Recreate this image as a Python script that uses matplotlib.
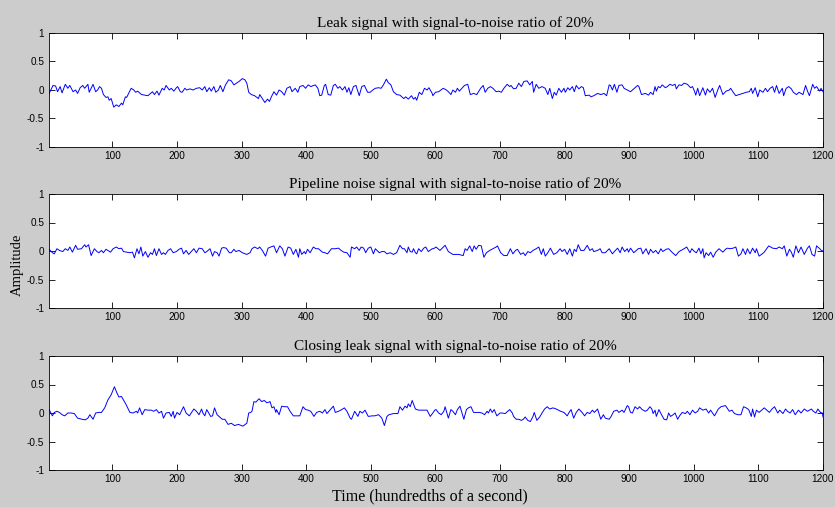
import matplotlib
matplotlib.use("Agg")
import matplotlib.pyplot as plt

# ---- data ----
t1 = [2, 8, 12, 15, 19, 22, 27, 31, 34, 39, 43, 46, 50, 54, 57, 62, 64, 70, 74, 77, 80, 83, 86, 90, 93, 95, 98, 102, 106, 110, 114, 116, 120, 122, 125, 129, 133, 136, 139, 145, 150, 155, 162, 165, 169, 172, 177, 180, 183, 188, 191, 195, 199, 201, 205, 208, 212, 215, 220, 225, 230, 235, 239, 243, 246, 250, 253, 257, 260, 264, 267, 271, 275, 280, 284, 288, 292, 296,
      301, 305, 308, 311, 315, 320, 326, 328, 332, 336, 340, 343, 346, 350, 354, 358, 362, 366, 370, 375, 378, 383, 387, 390, 395, 399, 403, 407, 414, 418, 421, 424, 428, 430, 434, 438, 442, 445, 449, 452, 456, 460, 463, 466, 469, 473, 477, 482, 486, 490, 495, 499, 503, 507, 512, 516, 520, 524, 527, 531, 535, 540, 545, 551, 554, 558, 563, 566, 569, 571, 575, 579, 583, 587, 590, 595,
      596, 600, 605, 612, 617, 620, 624, 627, 631, 634, 637, 641, 645, 650, 654, 659, 664, 670, 674, 677, 681, 685, 689, 694, 698, 702, 706, 711, 715, 717, 721, 725, 729, 733, 737, 742, 746, 750, 752, 756, 760, 765, 770, 774, 777, 781, 784, 787, 791, 795, 799, 801, 805, 808, 812, 815, 818, 822, 826, 829, 832, 838, 841, 845, 851, 856, 861, 865, 869, 871, 874, 877, 881, 884, 889, 892,
      902, 909, 913, 915, 919, 925, 930, 933, 937, 940, 942, 945, 948, 951, 956, 959, 963, 967, 971, 973, 977, 981, 985, 990, 995, 998, 1001, 1003, 1006, 1009, 1014, 1018, 1021, 1025, 1029, 1033, 1037, 1040, 1045, 1050, 1055, 1057, 1061, 1065, 1070, 1076, 1081, 1086, 1089, 1091, 1095, 1099, 1102, 1107, 1111, 1114, 1118, 1122, 1125, 1128, 1132, 1137, 1139, 1143, 1147, 1151, 1154, 1159, 1163, 1169, 1173, 1176, 1179, 1184, 1187, 1190, 1195, 1197, 1200]
a1 = [-0.06, 0.08, 0.07, -0.03, 0.06, -0.05, 0.10, 0.03, 0.08, -0.03, 0.0, -0.06, 0.04, 0.08, 0.03, 0.10, -0.04, 0.10, -0.03, 0.0, 0.06, 0.03, -0.08, -0.13, -0.12, -0.18, -0.15, -0.30, -0.26, -0.29, -0.23, -0.26, -0.12, -0.13, -0.06, 0.03, 0.0, -0.04, -0.02, -0.08, -0.09, -0.10, -0.03, -0.08, -0.02, -0.09, 0.03, 0.0, 0.08, 0.0, 0.03, -0.02, 0.04, 0.06, -0.03, -0.04, 0.03, 0.0, 0.02, 0.0, 0.03, 0.04, 0.0, 0.06, -0.03, 0.04, -0.02, 0.06, -0.04, 0.0, 0.08, -0.03, 0.09, 0.18, 0.16, 0.09, 0.12, 0.15,
      0.20, 0.18, 0.12, -0.04, -0.08, -0.10, -0.15, -0.08, -0.15, -0.22, -0.16, -0.20, -0.12, -0.03, -0.09, 0.0, -0.03, -0.09, 0.03, 0.06, -0.03, 0.03, -0.04, 0.06, 0.08, 0.03, 0.09, 0.06, 0.09, 0.03, -0.10, -0.09, 0.08, 0.10, -0.08, -0.09, 0.08, 0.10, 0.03, 0.06, 0.0, 0.06, -0.04, 0.04, -0.08, 0.06, 0.08, -0.10, 0.06, 0.08, -0.04, -0.04, 0.0, 0.03, 0.04, 0.03, 0.10, 0.19, 0.13, 0.09, -0.03, -0.08, -0.09, -0.15, -0.12, -0.16, -0.10, -0.16, -0.13, -0.18, -0.04, -0.08, 0.03, 0.0, 0.04, -0.06,
      -0.10, -0.04, -0.03, 0.03, 0.0, -0.03, -0.08, 0.0, -0.04, 0.03, -0.02, 0.03, 0.08, 0.10, -0.08, -0.06, -0.08, 0.03, 0.08, -0.04, 0.03, 0.06, 0.03, -0.03, -0.02, -0.04, 0.03, 0.10, 0.06, 0.08, 0.02, 0.03, 0.12, 0.06, 0.15, 0.16, 0.09, 0.15, -0.04, 0.10, 0.03, 0.06, 0.03, -0.08, 0.03, -0.15, -0.04, -0.09, 0.03, -0.04, 0.03, -0.04, 0.04, 0.0, 0.06, -0.03, 0.08, 0.02, 0.06, 0.04, -0.10, -0.09, -0.12, -0.10, -0.06, -0.08, -0.06, -0.10, 0.09, 0.08, 0.0, 0.10, -0.04, 0.08, 0.09, 0.03,
      -0.03, 0.04, 0.08, 0.06, -0.08, -0.06, -0.09, -0.04, -0.08, 0.06, -0.02, 0.06, 0.04, 0.09, 0.04, 0.06, 0.10, 0.08, 0.10, 0.02, 0.09, 0.08, 0.12, 0.10, 0.04, 0.06, -0.02, -0.09, 0.03, -0.10, 0.04, -0.09, 0.02, -0.04, 0.03, -0.13, 0.0, 0.08, -0.08, -0.02, 0.0, 0.03, -0.04, -0.10, -0.08, -0.06, -0.04, -0.03, 0.03, -0.06, 0.04, -0.12, 0.0, -0.04, 0.03, -0.03, 0.03, 0.06, -0.04, 0.08, -0.06, 0.03, -0.10, 0.03, 0.06, 0.02, -0.04, -0.08, -0.04, -0.08, 0.08, -0.02, -0.10, 0.10, 0.03, 0.06, -0.02, 0.03, -0.03]

t2 = [2, 7, 10, 14, 18, 23, 27, 31, 34, 38, 43, 46, 52, 57, 59, 63, 67, 72, 76, 79, 83, 86, 90, 97, 101, 106, 110, 114, 117, 122, 127, 131, 134, 138, 141, 144, 147, 151, 155, 159, 162, 165, 168, 172, 176, 179, 182, 186, 190, 194, 199, 203, 207, 210, 214, 218, 222, 226, 230, 234, 239, 243, 246, 251, 255, 258, 262, 265, 269, 272, 276, 281, 284, 288, 291, 296,
      301, 308, 313, 316, 320, 325, 328, 332, 337, 341, 345, 350, 354, 359, 363, 367, 372, 376, 380, 384, 388, 390, 393, 397, 399, 402, 406, 411, 415, 419, 425, 429, 433, 439, 445, 450, 454, 458, 463, 468, 470, 475, 478, 482, 485, 489, 492, 496, 500, 504, 507, 513, 517, 521, 525, 530, 535, 540, 545, 549, 552, 556, 558, 561, 564, 566, 569, 571, 574, 578, 582, 585, 589, 595,
      597, 601, 607, 615, 620, 627, 636, 643, 646, 649, 653, 657, 660, 663, 667, 671, 675, 679, 684, 689, 694, 696, 701, 706, 711, 716, 720, 724, 727, 732, 736, 739, 743, 747, 751, 756, 760, 764, 767, 770, 774, 778, 783, 788, 793, 796, 800, 804, 808, 812, 815, 818, 821, 825, 830, 835, 839, 843, 845, 851, 855, 858, 863, 869, 874, 877, 882, 886, 889, 893, 897,
      899, 902, 907, 914, 918, 921, 926, 930, 933, 937, 941, 945, 949, 952, 957, 961, 967, 972, 977, 985, 989, 994, 997, 1001, 1004, 1008, 1011, 1014, 1016, 1019, 1023, 1026, 1030, 1034, 1039, 1045, 1049, 1052, 1056, 1061, 1065, 1069, 1073, 1076, 1080, 1083, 1087, 1091, 1095, 1097, 1101, 1106, 1109, 1116, 1122, 1128, 1132, 1137, 1140, 1144, 1148, 1151, 1154, 1158, 1162, 1166, 1171, 1176, 1179, 1183, 1187, 1190, 1195, 1199, 1200]
a2 = [0.03, -0.03, -0.05, 0.04, 0.01, -0.01, 0.04, 0.01, 0.07, -0.02, 0.10, 0.03, 0.04, 0.11, 0.07, 0.11, -0.08, 0.04, -0.01, -0.03, 0.01, -0.03, 0.03, -0.02, 0.04, 0.07, 0.04, 0.05, -0.01, -0.02, -0.03, -0.02, -0.12, 0.04, -0.05, 0.07, -0.09, -0.01, -0.11, -0.03, -0.06, 0.04, -0.08, 0.04, -0.06, -0.03, -0.06, 0.01, 0.04, -0.03, -0.01, 0.03, 0.05, -0.05, 0.01, -0.06, -0.01, 0.04, -0.03, 0.05, 0.04, -0.03, -0.01, 0.04, -0.09, -0.01, -0.03, -0.09, 0.05, 0.06, 0.05, -0.03, -0.03, 0.03, -0.01, 0.01,
      -0.03, -0.06, -0.03, 0.04, 0.07, 0.04, 0.07, 0.01, -0.09, 0.05, 0.07, 0.09, -0.03, 0.09, 0.04, -0.09, 0.07, 0.05, -0.06, 0.03, -0.11, 0.04, -0.06, -0.01, -0.05, 0.03, -0.03, 0.07, 0.04, 0.04, -0.02, -0.03, -0.05, 0.04, 0.04, 0.05, 0.01, -0.02, -0.03, -0.11, 0.07, 0.04, 0.07, 0.01, 0.07, 0.05, -0.03, 0.05, 0.07, -0.05, 0.04, -0.03, -0.01, -0.01, -0.05, -0.03, -0.06, -0.03, 0.10, 0.04, 0.04, -0.03, 0.07, -0.01, -0.02, 0.04, -0.03, -0.05, 0.04, -0.01, 0.05, 0.07, -0.01, 0.04,
      0.04, 0.07, 0.01, 0.10, -0.01, -0.06, -0.06, -0.08, 0.04, 0.01, 0.09, -0.01, 0.09, 0.03, 0.10, 0.09, -0.11, -0.03, 0.01, 0.04, 0.07, 0.09, -0.03, -0.08, -0.08, 0.04, -0.05, 0.01, 0.03, -0.06, -0.03, -0.08, -0.01, -0.03, 0.01, 0.04, 0.07, -0.06, 0.04, -0.09, -0.03, 0.05, -0.06, -0.03, 0.04, -0.01, 0.03, -0.06, 0.04, -0.09, 0.03, -0.01, 0.11, 0.01, 0.01, 0.10, 0.01, 0.04, -0.01, 0.01, 0.04, -0.03, -0.03, 0.04, -0.05, -0.01, 0.05, -0.03, 0.07, -0.01, 0.04,
      -0.02, 0.05, -0.03, 0.04, 0.05, -0.05, 0.04, -0.06, 0.03, -0.03, 0.01, -0.05, 0.04, -0.01, 0.03, 0.04, -0.03, -0.08, -0.01, 0.04, 0.07, -0.03, 0.04, -0.01, -0.03, 0.05, -0.05, 0.04, -0.12, -0.03, -0.08, -0.02, -0.11, -0.02, 0.04, -0.02, 0.03, 0.05, 0.04, 0.05, 0.07, -0.09, -0.05, 0.04, -0.06, 0.04, -0.05, 0.05, -0.03, 0.04, -0.09, -0.05, -0.02, 0.09, 0.05, 0.04, 0.07, 0.04, 0.09, -0.09, 0.03, -0.02, -0.11, 0.09, -0.03, 0.07, -0.06, 0.05, 0.09, -0.06, -0.09, 0.09, 0.04, -0.01, 0.01]

t3 = [2, 7, 10, 14, 18, 22, 26, 31, 36, 41, 46, 53, 58, 62, 65, 70, 74, 79, 83, 88, 93, 98, 103, 107, 110, 114, 117, 121, 127, 132, 137, 139, 142, 146, 150, 155, 160, 164, 168, 172, 176, 179, 183, 188, 191, 194, 196, 200, 204, 210, 214, 219, 222, 226, 230, 234, 238, 240, 243, 246, 252, 255, 258, 262, 266, 270, 274, 279, 284, 289, 295,
      302, 308, 311, 314, 316, 319, 322, 327, 331, 335, 339, 342, 344, 347, 350, 353, 354, 358, 362, 366, 371, 375, 380, 385, 390, 395, 399, 403, 407, 412, 416, 421, 425, 429, 432, 442, 445, 450, 455, 459, 463, 468, 470, 475, 480, 483, 487, 491, 496, 502, 506, 512, 517, 521, 525, 528, 535, 542, 545, 549, 553, 556, 558, 561, 564, 569, 574, 582, 587, 592, 596, 599,
      601, 605, 609, 613, 615, 620, 624, 627, 631, 634, 638, 644, 648, 651, 655, 659, 664, 668, 672, 676, 680, 682, 685, 688, 691, 695, 700, 703, 708, 715, 719, 721, 725, 729, 733, 736, 739, 743, 747, 751, 753, 757, 762, 765, 769, 773, 777, 782, 787, 794, 799, 804, 808, 810, 814, 818, 822, 827, 831, 835, 839, 843, 846, 851, 856, 860, 863, 869, 872, 876, 881, 884, 889, 892, 897,
      899, 902, 905, 909, 913, 916, 920, 925, 928, 932, 935, 937, 940, 942, 946, 950, 954, 958, 961, 964, 968, 971, 975, 978, 982, 987, 990, 994, 998, 1002, 1006, 1009, 1014, 1019, 1023, 1026, 1032, 1038, 1042, 1049, 1055, 1059, 1063, 1068, 1073, 1077, 1081, 1085, 1089, 1091, 1094, 1097, 1101, 1106, 1109, 1113, 1117, 1121, 1125, 1130, 1133, 1138, 1142, 1145, 1149, 1153, 1157, 1162, 1166, 1171, 1176, 1182, 1185, 1189, 1192, 1196, 1199, 1200]
a3 = [0.06, -0.05, 0.01, 0.03, 0.01, -0.03, -0.05, 0.0, 0.0, -0.01, -0.09, -0.11, -0.12, -0.09, -0.03, -0.11, 0.0, 0.01, 0.01, 0.09, 0.23, 0.32, 0.46, 0.35, 0.28, 0.29, 0.23, 0.15, 0.01, 0.0, 0.03, 0.0, 0.09, -0.03, 0.06, 0.05, 0.05, 0.03, 0.06, 0.0, 0.03, -0.09, 0.0, 0.01, -0.06, 0.03, -0.09, 0.01, -0.03, 0.11, 0.0, -0.05, 0.0, 0.07, 0.03, -0.03, 0.07, 0.0, -0.05, 0.06, -0.06, -0.05, 0.09, -0.03, -0.07, -0.11, -0.11, -0.20, -0.18, -0.22, -0.20,
      -0.23, -0.18, 0.0, 0.01, 0.03, 0.20, 0.19, 0.25, 0.20, 0.22, 0.18, 0.19, 0.20, 0.09, 0.11, 0.01, 0.06, -0.03, 0.12, 0.11, 0.11, 0.03, -0.05, -0.05, -0.05, 0.11, 0.06, 0.05, 0.03, -0.06, 0.01, 0.03, 0.0, 0.06, -0.01, 0.12, 0.01, 0.03, 0.06, 0.09, 0.03, -0.09, -0.11, 0.03, -0.06, 0.03, 0.0, 0.05, -0.06, -0.05, -0.05, -0.03, -0.09, -0.22, -0.06, -0.03, -0.01, -0.01, 0.11, 0.05, 0.12, 0.09, 0.16, 0.11, 0.22, 0.07, 0.05, 0.05, 0.05, -0.06, 0.0, 0.05,
      0.06, 0.0, -0.03, 0.03, 0.11, -0.09, 0.06, 0.03, -0.03, 0.06, 0.12, -0.11, 0.06, 0.09, 0.11, 0.01, 0.01, 0.01, 0.0, -0.03, 0.03, 0.0, 0.07, 0.01, 0.06, -0.05, 0.0, 0.0, -0.01, 0.06, 0.0, -0.06, -0.11, -0.11, -0.13, -0.11, -0.07, -0.13, -0.15, -0.06, 0.01, -0.13, -0.06, 0.0, 0.07, 0.11, 0.07, 0.09, 0.07, 0.03, 0.01, -0.05, 0.03, 0.06, -0.09, 0.01, 0.07, 0.01, -0.05, 0.01, -0.01, 0.05, 0.01, 0.07, -0.11, -0.03, -0.09, -0.11, -0.06, 0.03, 0.05, 0.01, 0.05, 0.01, 0.13,
      0.11, 0.01, 0.0, 0.11, 0.07, 0.11, 0.06, 0.03, 0.05, 0.11, 0.07, -0.01, 0.05, -0.06, 0.06, -0.03, -0.11, -0.12, 0.0, -0.06, -0.03, 0.0, -0.11, -0.05, 0.01, -0.01, 0.03, -0.03, 0.05, 0.0, 0.03, 0.09, 0.05, 0.07, 0.0, 0.05, -0.05, 0.07, 0.11, 0.13, 0.03, 0.05, -0.01, -0.03, -0.03, 0.11, 0.09, 0.06, -0.06, 0.07, -0.07, 0.05, 0.01, 0.06, 0.09, 0.05, 0.01, 0.07, 0.11, 0.0, 0.05, -0.01, 0.07, 0.03, 0.0, 0.06, -0.03, 0.05, 0.0, 0.07, 0.03, 0.07, 0.03, 0.0, 0.07, 0.01, 0.0, -0.07]

titles = ["Leak signal with signal-to-noise ratio of 20%",
          "Pipeline noise signal with signal-to-noise ratio of 20%",
          "Closing leak signal with signal-to-noise ratio of 20%"]
x_ticks = [100, 200, 300, 400, 500, 600, 700, 800, 900, 1000, 1100, 1200]
y_ticks = [-1, -0.5, 0, 0.5, 1]
y_tick_labels = ["-1", "-0.5", "0", "0.5", "1"]
x_label = "Time (hundredths of a second)"
y_label = "Amplitude"

# ---- figure ----
W, H = 835, 507
fig = plt.figure(figsize=(W / 100, H / 100), dpi=100, facecolor="#cccccc")
serif = ["Liberation Serif", "DejaVu Serif"]
sans = ["Liberation Sans", "DejaVu Sans"]

# axes boxes in pixels: (left, top, right, bottom)
boxes = [(48.5, 33, 823, 147), (48.5, 194, 823, 308), (48.5, 356, 823, 470)]
series = [(t1, a1), (t2, a2), (t3, a3)]
for (l, tp, r, b), (tt, aa), title in zip(boxes, series, titles):
    ax = fig.add_axes([l / W, 1 - b / H, (r - l) / W, (b - tp) / H])
    ax.set_facecolor("white")
    ax.plot(tt, aa, color="#0000ff", linewidth=0.7)
    ax.set_xlim(1, 1200)
    ax.set_ylim(-1, 1)
    ax.set_xticks(x_ticks)
    ax.set_xticklabels([str(v) for v in x_ticks], fontfamily=sans, fontsize=7.2)
    ax.set_yticks(y_ticks)
    ax.set_yticklabels(y_tick_labels, fontfamily=sans, fontsize=7.2)
    ax.tick_params(direction="in", top=True, right=True, length=4, width=0.6,
                   pad=3, colors="black")
    for s in ax.spines.values():
        s.set_linewidth(0.6)
    ax.text(0.525, 1.0 + 10 / (b - tp), title, transform=ax.transAxes,
            fontfamily=serif, fontsize=11, ha="center", va="center")

fig.text(17 / W, 1 - 265 / H, y_label, rotation=90, fontfamily=serif,
         fontsize=10.5, ha="center", va="center")
fig.text(430 / W, 1 - 496 / H, x_label, fontfamily=serif, fontsize=11.5,
         ha="center", va="center")

fig.savefig("out.png", dpi=100, facecolor=fig.get_facecolor())
